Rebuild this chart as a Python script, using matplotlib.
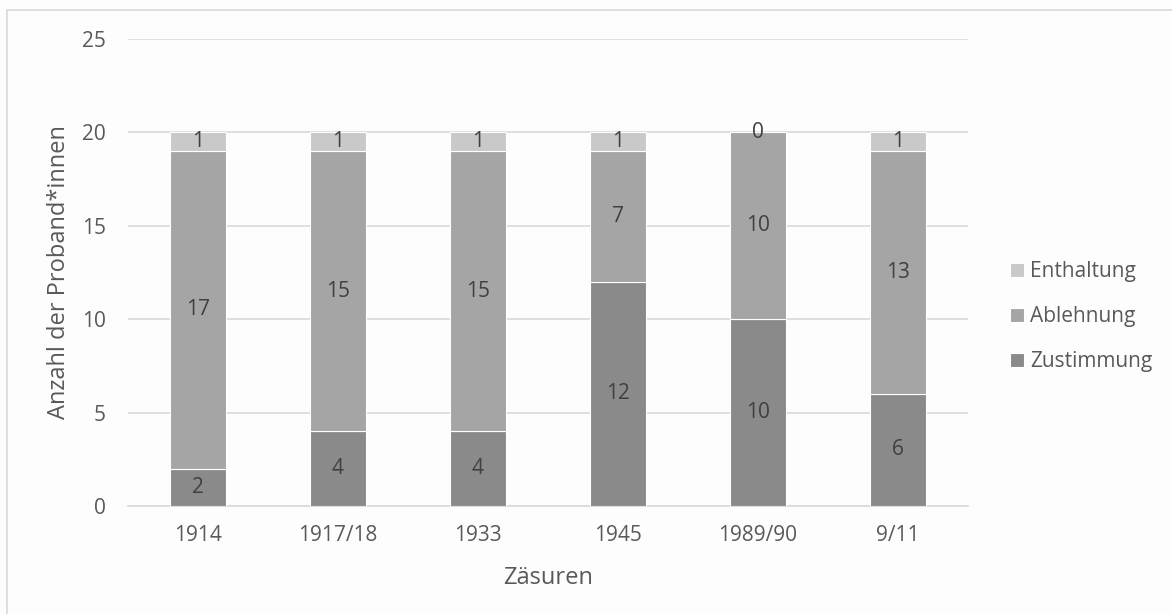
import matplotlib
matplotlib.use("Agg")
import matplotlib.pyplot as plt
from matplotlib.patches import Rectangle
import numpy as np

categories = ["1914", "1917/18", "1933", "1945", "1989/90", "9/11"]
zustimmung = [2, 4, 4, 12, 10, 6]
ablehnung = [17, 15, 15, 7, 10, 13]
enthaltung = [1, 1, 1, 1, 0, 1]

series = [
    ("Zustimmung", zustimmung, "#8a8a8a"),
    ("Ablehnung", ablehnung, "#a5a5a5"),
    ("Enthaltung", enthaltung, "#c9c9c9"),
]

text_color = "#595959"
plt.rcParams["font.family"] = ["Open Sans", "DejaVu Sans"]

W, H = 1172, 614
fig = plt.figure(figsize=(W / 100, H / 100), dpi=100, facecolor="#fdfdfd")
ax = fig.add_axes([128 / W, 1 - 506 / H, 840 / W, 467 / H])
ax.set_facecolor("#fdfdfd")

# outer chart frame (runs past the right and bottom edges)
fig.patches.append(Rectangle((7 / W, -0.05), 1.2, 1 - 10 / H + 0.05,
                             transform=fig.transFigure, fill=False,
                             edgecolor="#d9d9d9", linewidth=1.2))

x = np.arange(len(categories))
bottom = np.zeros(len(categories))
handles = []
for name, vals, color in series:
    vals = np.array(vals, dtype=float)
    bars = ax.bar(x, vals, 0.4, bottom=bottom, color=color,
                  edgecolor="white", linewidth=0.8, label=name, zorder=3)
    handles.append(bars)
    for xi, b, v in zip(x, bottom, vals):
        ax.text(xi, b + v / 2, f"{int(v)}", ha="center", va="center",
                fontsize=15, color="#404040", zorder=4)
    bottom += vals

ax.set_xlim(-0.5, len(categories) - 0.5)
ax.set_ylim(0, 25)
ax.set_yticks(range(0, 26, 5))
ax.set_xticks(x)
ax.set_xticklabels(categories)
ax.yaxis.grid(True, color="#d9d9d9", linewidth=1.2, zorder=0)
ax.tick_params(axis="both", length=0, labelsize=15, labelcolor=text_color)
ax.tick_params(axis="x", pad=14)
ax.tick_params(axis="y", pad=16)
for side in ["top", "right", "left"]:
    ax.spines[side].set_visible(False)
ax.spines["bottom"].set_color("#d9d9d9")
ax.spines["bottom"].set_linewidth(1.2)

ax.set_xlabel("Zäsuren", fontsize=17, color=text_color, labelpad=14)
ax.set_ylabel("Anzahl der Proband*innen", fontsize=17, color=text_color, labelpad=8)

leg = ax.legend(handles[::-1], [s[0] for s in series][::-1],
                loc="center left", bbox_to_anchor=(1.05, 0.405),
                frameon=False, fontsize=15, handlelength=0.65, handleheight=0.65,
                handletextpad=0.3, labelspacing=1.15, borderpad=0, borderaxespad=0)
for t in leg.get_texts():
    t.set_color(text_color)

fig.savefig("out.png", dpi=100, facecolor=fig.get_facecolor())
